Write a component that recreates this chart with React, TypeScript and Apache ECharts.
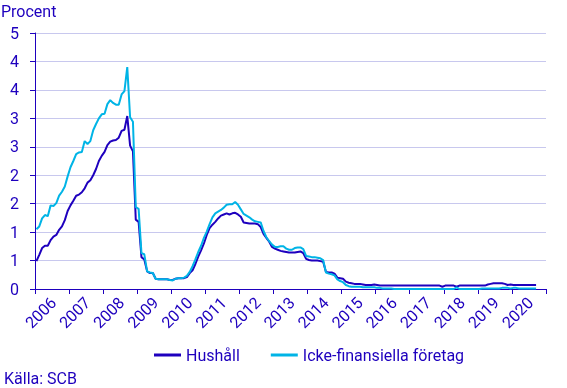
import React, { useEffect, useRef } from "react";
import * as echarts from "echarts";

const years = [2006, 2007, 2008, 2009, 2010, 2011, 2012, 2013, 2014, 2015, 2016, 2017, 2018, 2019, 2020];
const months = ["01", "02", "03", "04", "05", "06", "07", "08", "09", "10", "11", "12"];
const categories: string[] = [];
years.forEach((y) => months.forEach((m) => categories.push(`${y}-${m}`)));

const yTickLabels = ["0", "1", "1", "2", "2", "3", "3", "4", "4", "5"];

const hushall = [
  0.49, 0.6, 0.72, 0.76, 0.76, 0.86, 0.92, 0.95, 1.04, 1.1, 1.21, 1.37,
  1.47, 1.55, 1.64, 1.66, 1.7, 1.77, 1.87, 1.91, 2.0, 2.11, 2.25, 2.34,
  2.41, 2.53, 2.59, 2.61, 2.62, 2.66, 2.78, 2.8, 3.04, 2.52, 2.42, 1.22,
  1.18, 0.56, 0.52, 0.31, 0.28, 0.28, 0.18, 0.17, 0.17, 0.17, 0.17, 0.16,
  0.16, 0.18, 0.19, 0.19, 0.19, 0.21, 0.28, 0.33, 0.44, 0.57, 0.68, 0.8,
  0.95, 1.07, 1.13, 1.18, 1.24, 1.29, 1.31, 1.33, 1.31, 1.33, 1.34, 1.31,
  1.27, 1.17, 1.16, 1.15, 1.15, 1.15, 1.14, 1.09, 0.97, 0.9, 0.83, 0.74,
  0.71, 0.69, 0.67, 0.66, 0.65, 0.64, 0.64, 0.64, 0.65, 0.66, 0.63, 0.53,
  0.51, 0.5, 0.5, 0.5, 0.49, 0.48, 0.3, 0.29, 0.29, 0.27, 0.2, 0.19,
  0.18, 0.13, 0.11, 0.1, 0.09, 0.09, 0.09, 0.08, 0.07, 0.07, 0.07, 0.08,
  0.07, 0.06, 0.06, 0.06, 0.06, 0.06, 0.06, 0.06, 0.06, 0.06, 0.06, 0.06,
  0.06, 0.06, 0.06, 0.06, 0.06, 0.06, 0.06, 0.06, 0.06, 0.06, 0.06, 0.04,
  0.06, 0.06, 0.06, 0.06, 0.04, 0.06, 0.06, 0.06, 0.06, 0.06, 0.06, 0.06,
  0.06, 0.06, 0.06, 0.08, 0.09, 0.1, 0.1, 0.1, 0.1, 0.09, 0.07, 0.08,
  0.07, 0.07, 0.07, 0.07, 0.07, 0.07, 0.07, 0.07, 0.07,
];

const ickeFinansiella = [
  1.05, 1.1, 1.24, 1.3, 1.28, 1.47, 1.46, 1.51, 1.64, 1.71, 1.8, 1.98,
  2.14, 2.25, 2.37, 2.4, 2.41, 2.6, 2.55, 2.6, 2.79, 2.9, 3.0, 3.07,
  3.08, 3.25, 3.32, 3.27, 3.24, 3.24, 3.42, 3.48, 3.9, 3.02, 2.94, 1.44,
  1.41, 0.63, 0.61, 0.31, 0.29, 0.28, 0.18, 0.17, 0.17, 0.17, 0.17, 0.16,
  0.15, 0.18, 0.19, 0.19, 0.2, 0.23, 0.3, 0.4, 0.52, 0.65, 0.76, 0.9,
  1.01, 1.14, 1.26, 1.33, 1.36, 1.39, 1.43, 1.48, 1.49, 1.49, 1.53, 1.48,
  1.4, 1.32, 1.29, 1.26, 1.22, 1.19, 1.18, 1.17, 1.02, 0.91, 0.84, 0.78,
  0.74, 0.74, 0.75, 0.75, 0.71, 0.69, 0.69, 0.72, 0.73, 0.73, 0.7, 0.58,
  0.57, 0.56, 0.56, 0.55, 0.54, 0.51, 0.29, 0.27, 0.26, 0.24, 0.17, 0.14,
  0.12, 0.07, 0.05, 0.04, 0.04, 0.04, 0.04, 0.03, 0.03, 0.03, 0.03, 0.03,
  0.02, 0.02, 0.01, 0.01, 0.01, 0.01, 0.0, 0.0, 0.0, 0.0, 0.0, 0.0,
  0.0, 0.0, 0.0, 0.0, 0.0, 0.0, 0.0, 0.0, 0.0, 0.0, 0.0, 0.0,
  0.0, 0.0, 0.0, 0.0, 0.03, 0.0, 0.0, 0.0, 0.0, 0.0, 0.0, 0.0,
  0.0, 0.01, 0.01, 0.01, 0.01, 0.01, 0.01, 0.01, 0.02, 0.02, 0.02, 0.01,
  0.02, 0.02, 0.01, 0.01, 0.01, 0.01, 0.01, 0.01, 0.01,
];

const DARK = "#1E00BE";
const LIGHT = "#00B4E6";
const TEXT = "#1E00BE";
const GRID = "#C8C8EE";
const FONT = "Roboto";

export default function App() {
  const ref = useRef<HTMLDivElement>(null);
  useEffect(() => {
    if (!ref.current) return;
    const chart = echarts.init(ref.current, null, { renderer: "svg" });
    chart.setOption({
      animation: false,
      textStyle: { fontFamily: FONT, color: TEXT },
      title: {
        text: "Procent",
        left: 1,
        top: 3,
        padding: 0,
        textStyle: { fontFamily: FONT, fontSize: 16, fontWeight: "normal", color: TEXT },
      },
      graphic: [
        {
          type: "text",
          left: 4,
          top: 370,
          style: { text: "Källa: SCB", fontFamily: FONT, fontSize: 16, fill: TEXT },
        },
      ],
      legend: {
        left: 154,
        top: 347,
        icon: "rect",
        itemWidth: 27,
        itemHeight: 3,
        itemGap: 31,
        padding: 0,
        textStyle: { fontFamily: FONT, fontSize: 16, color: TEXT },
        data: ["Hushåll", "Icke-finansiella företag"],
      },
      grid: { left: 35, right: 21, top: 33, bottom: 99, containLabel: false, outerBoundsMode: "none" },
      xAxis: {
        type: "category",
        data: categories,
        boundaryGap: true,
        axisLine: { show: true, lineStyle: { color: DARK, width: 1 } },
        axisTick: {
          show: true,
          length: 5,
          alignWithLabel: false,
          interval: (i: number) => i % 12 === 0,
          lineStyle: { color: DARK },
        },
        axisLabel: {
          interval: (i: number) => i % 12 === 6,
          rotate: 45,
          margin: 11,
          fontFamily: FONT,
          fontSize: 16,
          color: TEXT,
          formatter: (v: string) => v.slice(0, 4),
        },
        splitLine: { show: false },
      },
      yAxis: {
        type: "value",
        min: 0,
        max: 4.5,
        interval: 0.5,
        axisLine: { show: true, lineStyle: { color: DARK, width: 1 } },
        axisTick: { show: true, length: 5, lineStyle: { color: DARK } },
        axisLabel: {
          margin: 16,
          fontFamily: FONT,
          fontSize: 16,
          color: TEXT,
          formatter: (v: number) => yTickLabels[Math.round(v * 2)] ?? String(Math.round(v)),
        },
        splitLine: { show: true, lineStyle: { color: GRID, width: 1 } },
      },
      series: [
        {
          name: "Hushåll",
          type: "line",
          data: hushall,
          symbol: "none",
          lineStyle: { color: DARK, width: 2 },
          itemStyle: { color: DARK },
        },
        {
          name: "Icke-finansiella företag",
          type: "line",
          data: ickeFinansiella,
          symbol: "none",
          lineStyle: { color: LIGHT, width: 2 },
          itemStyle: { color: LIGHT },
        },
      ],
    });
    return () => chart.dispose();
  }, []);
  return (
    <div
      ref={ref}
      style={{ position: "fixed", left: 0, top: 0, width: 567, height: 388 }}
    />
  );
}
